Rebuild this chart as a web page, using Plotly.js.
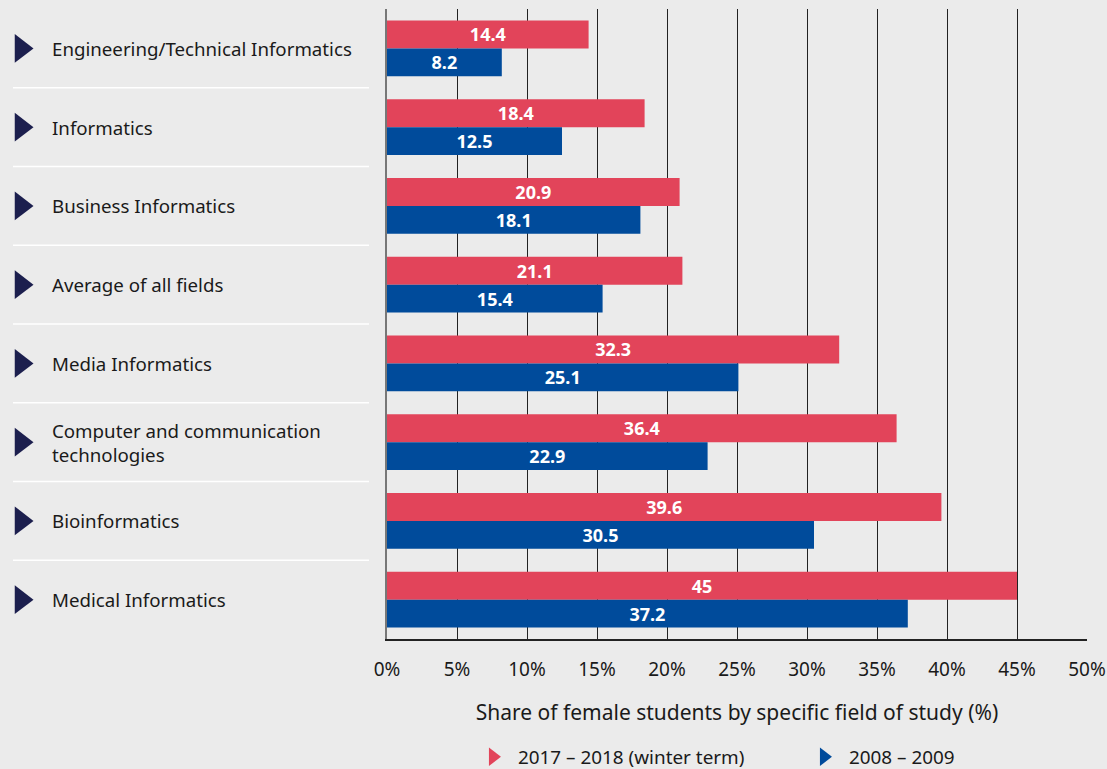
<!DOCTYPE html>
<html>
<head>
<meta charset="utf-8">
<script src="https://cdn.plot.ly/plotly-3.0.1.min.js"></script>
<style>html,body{margin:0;padding:0;background:#ebebeb;}</style>
</head>
<body>
<div id="chart" style="width:1107px;height:769px;"></div>
<script>
const categories = [
  "Engineering/Technical Informatics",
  "Informatics",
  "Business Informatics",
  "Average of all fields",
  "Media Informatics",
  "Computer and communication<br>technologies",
  "Bioinformatics",
  "Medical Informatics"
];
const series2017 = [14.4, 18.4, 20.9, 21.1, 32.3, 36.4, 39.6, 45];
const series2008 = [8.2, 12.5, 18.1, 15.4, 25.1, 22.9, 30.5, 37.2];
const seriesNames = ["2017 – 2018 (winter term)", "2008 – 2009"];
const xTicks = [0, 5, 10, 15, 20, 25, 30, 35, 40, 45, 50];
const xTickLabels = xTicks.map(v => v + "%");

const RED = "#e2445a", BLUE = "#004b9b", NAVY = "#1c1f4e";
const FONT = "Noto Sans, Open Sans, sans-serif";
const TEXT = "#1a1a1a";

const barText = {family: FONT, size: 18, color: "#ffffff"};

const barCommon = {type: "bar", orientation: "h", textposition: "inside", insidetextanchor: "middle",
  textangle: 0, constraintext: "none", textfont: barText, insidetextfont: barText,
  texttemplate: "<b>%{text}</b>", showlegend: false};

const traces = [
  Object.assign({}, barCommon, {y: categories, x: series2017, name: seriesNames[0],
    text: series2017.map(String), marker: {color: RED}}),
  Object.assign({}, barCommon, {y: categories, x: series2008, name: seriesNames[1],
    text: series2008.map(String), marker: {color: BLUE}}),
  {type: "scatter", mode: "markers", xaxis: "x2", yaxis: "y", y: categories,
   x: categories.map(() => 21), marker: {symbol: "triangle-right", size: 25, color: NAVY},
   showlegend: false, hoverinfo: "skip", cliponaxis: false},
  {type: "scatter", mode: "markers", x: [null], y: [null], name: seriesNames[0],
   marker: {symbol: "triangle-right", size: 22, color: RED}},
  {type: "scatter", mode: "markers", x: [null], y: [null], name: seriesNames[1],
   marker: {symbol: "triangle-right", size: 22, color: BLUE}}
];

const annotations = categories.map(c => ({
  xref: "x2", yref: "y", x: 50, y: c, text: c, showarrow: false,
  xanchor: "left", yanchor: "middle", align: "left",
  font: {family: FONT, size: 18.7, color: TEXT}
}));

const shapes = [];
for (let i = 0; i < categories.length - 1; i++) {
  shapes.push({type: "line", xref: "x2", yref: "y", x0: 13, x1: 369, y0: i + 0.5, y1: i + 0.5,
    line: {color: "#ffffff", width: 1.5}});
}

const layout = {
  width: 1107, height: 769,
  paper_bgcolor: "#ebebeb", plot_bgcolor: "#ebebeb",
  margin: {l: 0, r: 20, t: 9, b: 130, autoexpand: false},
  barmode: "group", bargap: 0.29, bargroupgap: 0,
  font: {family: FONT, size: 18, color: TEXT},
  xaxis: {
    domain: [387 / 1087, 1], range: [0, 50], tickmode: "array", tickvals: xTicks, ticktext: xTickLabels,
    showgrid: true, gridcolor: "#222222", gridwidth: 1, zeroline: false,
    showline: true, linecolor: "#222222", linewidth: 2,
    ticks: "outside", ticklen: 12, tickcolor: "rgba(0,0,0,0)",
    tickfont: {family: FONT, size: 19, color: TEXT},
    title: {text: "Share of female students by specific field of study (%)", standoff: 25,
      font: {family: FONT, size: 21, color: TEXT}},
    fixedrange: true
  },
  xaxis2: {domain: [0, 369 / 1087], range: [0, 369], anchor: "y", visible: false, fixedrange: true},
  yaxis: {
    range: [categories.length - 0.5, -0.5], autorange: false, showticklabels: false, showgrid: false, zeroline: false,
    showline: true, linecolor: "#777777", linewidth: 2, ticks: "", fixedrange: true
  },
  showlegend: true,
  legend: {orientation: "h", x: 0.4305, xanchor: "left", y: -0.1873, yanchor: "middle",
    bgcolor: "rgba(0,0,0,0)", font: {family: FONT, size: 18.9, color: TEXT},
    itemwidth: 40, entrywidth: 276, itemclick: false, itemdoubleclick: false},
  annotations: annotations,
  shapes: shapes
};

Plotly.newPlot("chart", traces, layout, {displayModeBar: false, staticPlot: true});
</script>
</body>
</html>
